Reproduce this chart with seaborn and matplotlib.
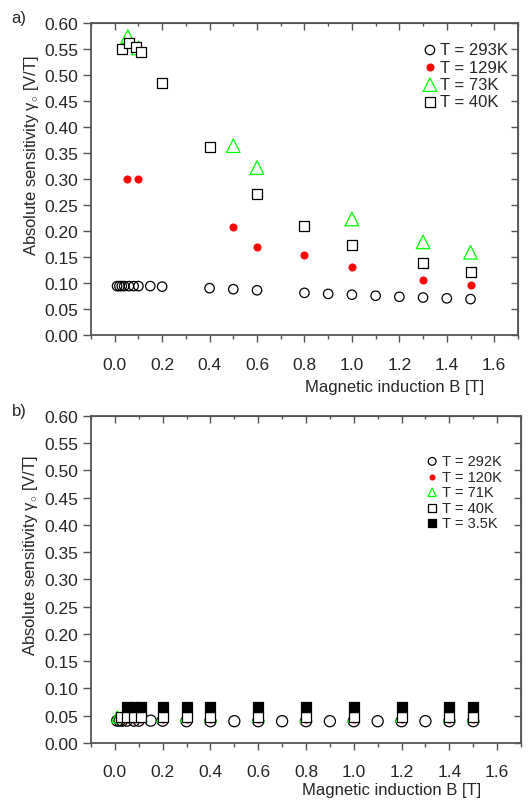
import matplotlib
matplotlib.use("Agg")
import matplotlib.pyplot as plt
import seaborn as sns
from matplotlib.ticker import MultipleLocator, NullFormatter

# ---- panel a) data: magnetic induction B [T] and sensitivity [V/T]
b_a_293 = [0.01, 0.02, 0.03, 0.04, 0.06, 0.08, 0.10, 0.15, 0.20, 0.40, 0.50,
           0.60, 0.80, 0.90, 1.00, 1.10, 1.20, 1.30, 1.40, 1.50]
s_a_293 = [0.094, 0.094, 0.094, 0.094, 0.094, 0.094, 0.094, 0.094, 0.093, 0.090,
           0.088, 0.086, 0.081, 0.079, 0.0775, 0.0755, 0.0735, 0.072, 0.0705, 0.069]
b_a_129 = [0.05, 0.10, 0.50, 0.60, 0.80, 1.00, 1.30, 1.50]
s_a_129 = [0.300, 0.300, 0.207, 0.169, 0.154, 0.131, 0.106, 0.0955]
b_a_73 = [0.055, 0.10, 0.50, 0.60, 1.00, 1.30, 1.50]
s_a_73 = [0.574, 0.552, 0.364, 0.322, 0.223, 0.179, 0.159]
b_a_40 = [0.03, 0.06, 0.09, 0.11, 0.20, 0.40, 0.60, 0.80, 1.00, 1.30, 1.50]
s_a_40 = [0.550, 0.561, 0.553, 0.545, 0.485, 0.361, 0.271, 0.210, 0.174, 0.138, 0.122]

# ---- panel b) data
b_b_292 = [0.01, 0.02, 0.03, 0.05, 0.08, 0.10, 0.15, 0.20, 0.30, 0.40, 0.50,
           0.60, 0.70, 0.80, 0.90, 1.00, 1.10, 1.20, 1.30, 1.40, 1.50]
s_b_292 = [0.041, 0.041, 0.041, 0.041, 0.041, 0.041, 0.041, 0.041, 0.040, 0.040, 0.040,
           0.040, 0.040, 0.040, 0.040, 0.040, 0.040, 0.040, 0.040, 0.040, 0.040]
b_b_120 = [0.03, 0.05, 0.08, 0.11, 0.20, 0.30, 0.40, 0.60, 0.80, 1.00, 1.20, 1.40, 1.50]
s_b_120 = [0.044, 0.044, 0.044, 0.044, 0.044, 0.044, 0.044, 0.044, 0.044, 0.044, 0.044, 0.044, 0.044]
b_b_71 = [0.01, 0.05, 0.08, 0.11, 0.20, 0.30, 0.40, 0.60, 0.80, 1.00, 1.20, 1.40, 1.50]
s_b_71 = [0.048, 0.049, 0.049, 0.049, 0.049, 0.049, 0.049, 0.049, 0.049, 0.049, 0.049, 0.049, 0.049]
b_b_40 = [0.025, 0.05, 0.08, 0.11, 0.20, 0.30, 0.40, 0.60, 0.80, 1.00, 1.20, 1.40, 1.50]
s_b_40 = [0.047, 0.048, 0.048, 0.048, 0.048, 0.048, 0.048, 0.048, 0.048, 0.048, 0.048, 0.048, 0.048]
b_b_35 = [0.05, 0.08, 0.11, 0.20, 0.30, 0.40, 0.60, 0.80, 1.00, 1.20, 1.40, 1.50]
s_b_35 = [0.066, 0.066, 0.066, 0.066, 0.066, 0.066, 0.066, 0.066, 0.066, 0.066, 0.066, 0.066]

labels_a = ["T = 293K", "T = 129K", "T = 73K", "T = 40K"]
labels_b = ["T = 292K", "T = 120K", "T = 71K", "T = 40K", "T = 3.5K"]

x_ticks = [0.0, 0.2, 0.4, 0.6, 0.8, 1.0, 1.2, 1.4, 1.6]
y_ticks = [0.00, 0.05, 0.10, 0.15, 0.20, 0.25, 0.30, 0.35, 0.40, 0.45, 0.50, 0.55, 0.60]

sns.set_style("ticks")
plt.rcParams["font.family"] = ["Liberation Sans", "DejaVu Sans"]
plt.rcParams["mathtext.fontset"] = "custom"
plt.rcParams["mathtext.rm"] = "Liberation Sans"
plt.rcParams["mathtext.it"] = "Liberation Sans"

FRAME = "#555555"
GREEN = "#00ff00"
RED = "#ff0000"

fig = plt.figure(figsize=(5.32, 8.03), dpi=100)
ax_a = fig.add_axes([0.171, 0.5816, 0.8026, 0.3885])
ax_b = fig.add_axes([0.171, 0.0735, 0.8083, 0.4072])


def points(ax, x, y, label, marker, fc, ec, s, z):
    sns.scatterplot(x=x, y=y, ax=ax, marker=marker, s=s, facecolor=fc,
                    edgecolor=ec, linewidth=0.9, label=label, zorder=z)


def frame(ax, xpad):
    ax.set_xlim(-0.1, 1.7)
    ax.set_ylim(0, 0.6)
    ax.set_xticks(x_ticks)
    ax.set_xticklabels([f"{v:.1f}" for v in x_ticks])
    ax.set_yticks(y_ticks)
    ax.set_yticklabels([f"{v:.2f}" for v in y_ticks])
    ax.xaxis.set_minor_locator(MultipleLocator(0.1))
    ax.tick_params(axis="both", which="both", direction="out", color=FRAME,
                   labelsize=12.5, top=False, right=False)
    ax.tick_params(axis="x", which="major", length=5, width=1, pad=xpad)
    ax.tick_params(axis="x", which="minor", length=3, width=1)
    ax.tick_params(axis="y", which="major", length=6, width=1, pad=3)
    for sp in ax.spines.values():
        sp.set_color(FRAME)
        sp.set_linewidth(1.3)
    # inward ticks on the top and right sides
    top = ax.secondary_xaxis("top")
    top.set_xticks(x_ticks)
    top.xaxis.set_minor_locator(MultipleLocator(0.1))
    top.tick_params(which="both", direction="in", color=FRAME, labeltop=False)
    top.tick_params(which="major", length=5, width=1)
    top.tick_params(which="minor", length=2, width=1)
    top.xaxis.set_major_formatter(NullFormatter())
    top.spines["top"].set_color(FRAME)
    right = ax.secondary_yaxis("right")
    right.set_yticks(y_ticks)
    right.tick_params(direction="in", length=5, width=1, color=FRAME, labelright=False)
    right.yaxis.set_major_formatter(NullFormatter())
    right.spines["right"].set_color(FRAME)
    ax.set_xlabel("Magnetic induction B [T]", fontsize=12)
    ax.set_ylabel(r"Absolute sensitivity $\gamma_{\circ}$ [V/T]", fontsize=12)


# panel a)
points(ax_a, b_a_293, s_a_293, labels_a[0], "o", "none", "black", 46, 2)
points(ax_a, b_a_129, s_a_129, labels_a[1], "o", RED, RED, 24, 3)
points(ax_a, b_a_73, s_a_73, labels_a[2], "^", "none", GREEN, 95, 4)
points(ax_a, b_a_40, s_a_40, labels_a[3], "s", "white", "black", 50, 5)
frame(ax_a, 11)
ax_a.xaxis.set_label_coords(0.71, -0.14)
ax_a.yaxis.set_label_coords(-0.118, 0.58)
ax_a.legend(loc="upper right", bbox_to_anchor=(1.0, 0.97), frameon=False,
            fontsize=12, handlelength=0.8, handletextpad=0.2, labelspacing=0.14,
            borderaxespad=0.2, scatterpoints=1)
fig.text(0.022, 0.977, "a)", fontsize=12, ha="left", va="center")

# panel b)
points(ax_b, b_b_292, s_b_292, labels_b[0], "o", "none", "black", 64, 2)
points(ax_b, b_b_120, s_b_120, labels_b[1], "o", RED, RED, 24, 3)
points(ax_b, b_b_71, s_b_71, labels_b[2], "^", "none", GREEN, 72, 4)
points(ax_b, b_b_40, s_b_40, labels_b[3], "s", "white", "black", 52, 5)
points(ax_b, b_b_35, s_b_35, labels_b[4], "s", "black", "black", 52, 6)
frame(ax_b, 10)
ax_b.xaxis.set_label_coords(0.70, -0.12)
ax_b.yaxis.set_label_coords(-0.118, 0.575)
leg = ax_b.legend(loc="upper right", bbox_to_anchor=(0.975, 0.91), frameon=False,
                  fontsize=10.5, handlelength=0.8, handletextpad=0.25,
                  labelspacing=0.1, borderaxespad=0.2, scatterpoints=1,
                  markerscale=0.7)
fig.text(0.022, 0.487, "b)", fontsize=12, ha="left", va="center")

fig.savefig("out.png", dpi=100)
